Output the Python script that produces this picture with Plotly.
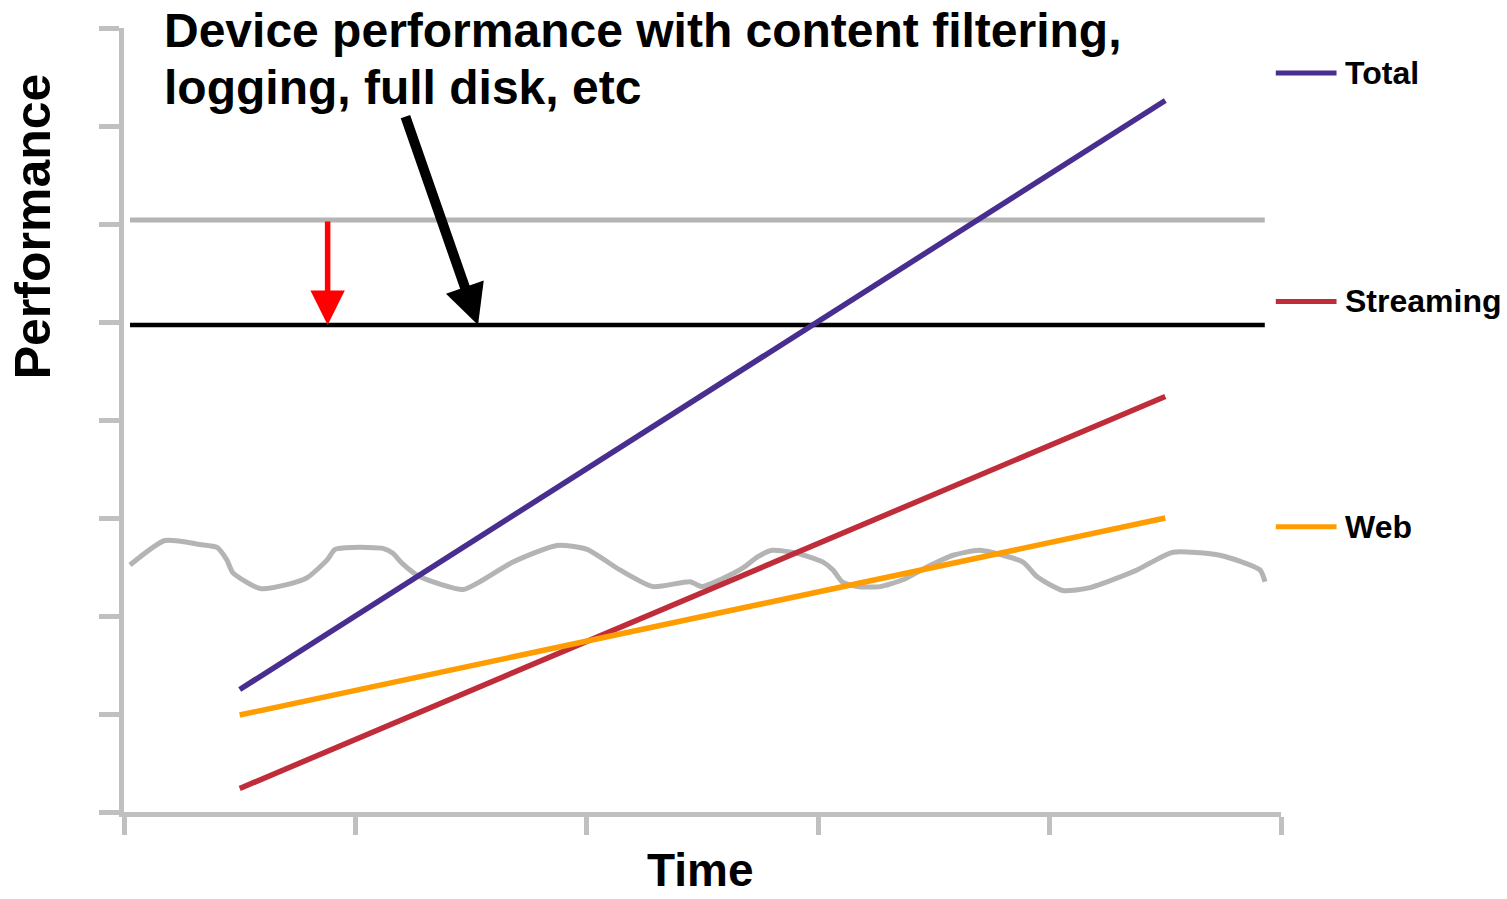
import plotly.graph_objects as go

# ---- data ----
trend_x = [0.5, 4.5]
total_y = [1.25, 7.26]
streaming_y = [0.24, 4.24]
web_y = [0.99, 3.0]

baseline_x = [0.026, 4.93]
capacity_level = 6.04      # grey line: nominal device performance
reduced_level = 4.97       # black line: with filtering, logging...

wave_x = [0.026, 0.177, 0.328, 0.402, 0.445, 0.471, 0.588, 0.704, 0.791, 0.877,
          0.912, 0.990, 1.119, 1.162, 1.201, 1.279, 1.465, 1.538, 1.681, 1.871,
          2.001, 2.143, 2.286, 2.446, 2.498, 2.576, 2.675, 2.736, 2.800, 2.908,
          3.021, 3.064, 3.103, 3.168, 3.267, 3.366, 3.470, 3.583, 3.699, 3.885,
          3.946, 4.058, 4.175, 4.378, 4.434, 4.533, 4.736, 4.909, 4.931]
wave_y = [2.52, 2.77, 2.73, 2.70, 2.57, 2.44, 2.28, 2.32, 2.39, 2.57,
          2.68, 2.70, 2.69, 2.64, 2.54, 2.40, 2.27, 2.35, 2.55, 2.72,
          2.68, 2.47, 2.30, 2.35, 2.30, 2.37, 2.49, 2.60, 2.67, 2.64,
          2.55, 2.47, 2.35, 2.30, 2.30, 2.37, 2.50, 2.62, 2.67, 2.55,
          2.40, 2.26, 2.29, 2.47, 2.54, 2.65, 2.62, 2.47, 2.35]

red_arrow_x = 0.88
black_arrow_tail = (1.214, 7.11)
black_arrow_tip = (1.53, 4.97)

x_ticks = [0, 1, 2, 3, 4, 5]
y_ticks = [0, 1, 2, 3, 4, 5, 6, 7, 8]

series_names = ["Total", "Streaming", "Web"]
series_colors = ["#482e8e", "#bf2d3b", "#ff9c00"]
series_label_y = [7.54, 5.21, 2.91]

title_lines = ["Device performance with content filtering,", "logging, full disk, etc"]

AX = "#c0c0c0"
FONT = "Liberation Sans, Arial, sans-serif"

fig = go.Figure()

fig.add_trace(go.Scatter(x=wave_x, y=wave_y, mode="lines",
                         line=dict(color="#b4b4b4", width=5, shape="spline", smoothing=0.6),
                         hoverinfo="skip"))
fig.add_trace(go.Scatter(x=baseline_x, y=[capacity_level] * 2, mode="lines",
                         line=dict(color="#b4b4b4", width=5), hoverinfo="skip"))
fig.add_trace(go.Scatter(x=baseline_x, y=[reduced_level] * 2, mode="lines",
                         line=dict(color="#000000", width=4.5), hoverinfo="skip"))

for name, ys, col in zip(series_names, [total_y, streaming_y, web_y], series_colors):
    fig.add_trace(go.Scatter(x=trend_x, y=ys, mode="lines", name=name,
                             line=dict(color=col, width=5.5)))

annotations = []
shapes = []
# right-hand labels
for name, col, ly in zip(series_names, series_colors, series_label_y):
    shapes.append(dict(type="line", xref="paper", yref="y", x0=0.9955, x1=1.048,
                       y0=ly, y1=ly, line=dict(color=col, width=5)))
    annotations.append(dict(xref="paper", yref="y", x=1.0535, y=ly, text="<b>%s</b>" % name,
                            showarrow=False, xanchor="left", yanchor="middle",
                            font=dict(family=FONT, size=32, color="black")))

# title lines
annotations.append(dict(xref="paper", yref="paper", x=0.0330, y=0.997, text="<b>%s</b>" % title_lines[0],
                        showarrow=False, xanchor="left", yanchor="middle",
                        font=dict(family=FONT, size=48, color="black")))
annotations.append(dict(xref="paper", yref="paper", x=0.0330, y=0.9235, text="<b>%s</b>" % title_lines[1],
                        showarrow=False, xanchor="left", yanchor="middle",
                        font=dict(family=FONT, size=48, color="black")))

# axis titles
annotations.append(dict(xref="paper", yref="paper", x=-0.0787, y=0.747, text="<b>Performance</b>",
                        textangle=-90, showarrow=False, xanchor="center", yanchor="middle",
                        font=dict(family=FONT, size=50, color="black")))
annotations.append(dict(xref="paper", yref="paper", x=0.498, y=-0.0745, text="<b>Time</b>",
                        showarrow=False, xanchor="center", yanchor="middle",
                        font=dict(family=FONT, size=46, color="black")))

# arrows
annotations.append(dict(x=red_arrow_x, y=reduced_level, ax=red_arrow_x, ay=capacity_level,
                        xref="x", yref="y", axref="x", ayref="y", text="", showarrow=True,
                        arrowhead=2, arrowsize=1.25, arrowwidth=5.5, arrowcolor="#ff0000"))
annotations.append(dict(x=black_arrow_tip[0], y=black_arrow_tip[1],
                        ax=black_arrow_tail[0], ay=black_arrow_tail[1],
                        xref="x", yref="y", axref="x", ayref="y", text="", showarrow=True,
                        arrowhead=2, arrowsize=0.8, arrowwidth=10, arrowcolor="#000000"))

fig.update_layout(
    width=1507, height=899,
    margin=dict(l=124, r=226, t=28, b=87),
    paper_bgcolor="white", plot_bgcolor="white",
    showlegend=False,
    annotations=annotations, shapes=shapes,
    xaxis=dict(range=[0, 5], tickvals=x_ticks, showticklabels=False, showgrid=False,
               zeroline=False, showline=True, linecolor=AX, linewidth=5,
               ticks="outside", ticklen=18, tickwidth=5, tickcolor=AX, fixedrange=True),
    yaxis=dict(range=[0, 8], tickvals=y_ticks, showticklabels=False, showgrid=False,
               zeroline=False, showline=True, linecolor=AX, linewidth=5,
               ticks="outside", ticklen=20, tickwidth=5, tickcolor=AX, fixedrange=True),
)

fig.write_html("out.html", config={"displayModeBar": False},
               post_script="document.body.style.margin='0px';document.body.style.overflow='hidden';")
